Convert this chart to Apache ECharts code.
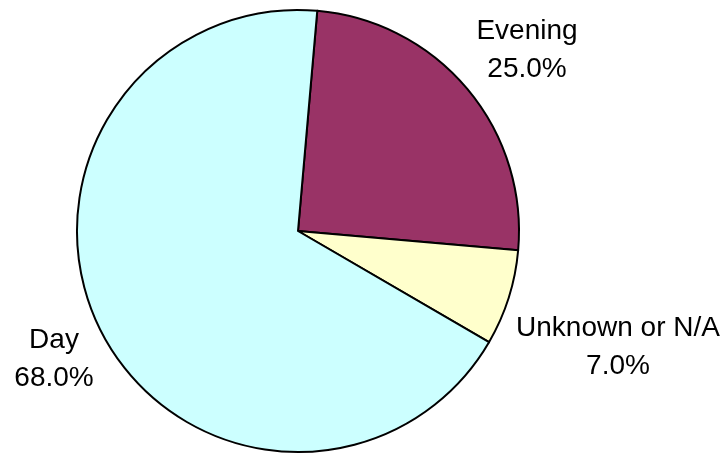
<!DOCTYPE html>
<html>
<head>
<meta charset="utf-8">
<script src="https://cdn.jsdelivr.net/npm/echarts@6/dist/echarts.min.js"></script>
<style>
    html, body { margin: 0; padding: 0; background: #fff; }
    #chart { width: 725px; height: 454px; }
</style>
</head>
<body>
<div id="chart"></div>
<script>
// 数据
const categories = ['Evening', 'Unknown or N/A', 'Day']
const values = [25, 7, 68]
const colors = ['#993366', '#FFFFCC', '#CCFFFF']

// 标签中心位置 (px)
const labelPos = [[527, 50], [618, 347], [54, 359]]

const chart = echarts.init(document.getElementById('chart'))
chart.setOption({
    animation: false,
    backgroundColor: '#fff',
    series: [{
        type: 'pie',
        center: [298, 231],
        radius: 221,
        startAngle: 85,
        clockwise: true,
        silent: true,
        data: categories.map((name, i) => ({ name, value: values[i], itemStyle: { color: colors[i] } })),
        itemStyle: { borderColor: '#000', borderWidth: 2 },
        label: {
            show: true,
            position: 'outside',
            alignTo: 'none',
            overflow: 'none',
            formatter: (p) => `${p.name}\n${p.percent.toFixed(1)}%`,
            fontFamily: 'Liberation Sans, Arial, sans-serif',
            fontSize: 28,
            lineHeight: 38,
            color: '#000',
        },
        labelLine: { show: false },
        labelLayout: (p) => ({
            x: labelPos[p.dataIndex][0],
            y: labelPos[p.dataIndex][1],
            align: 'center',
            verticalAlign: 'middle',
            width: 300,
        }),
    }],
})
</script>
</body>
</html>
